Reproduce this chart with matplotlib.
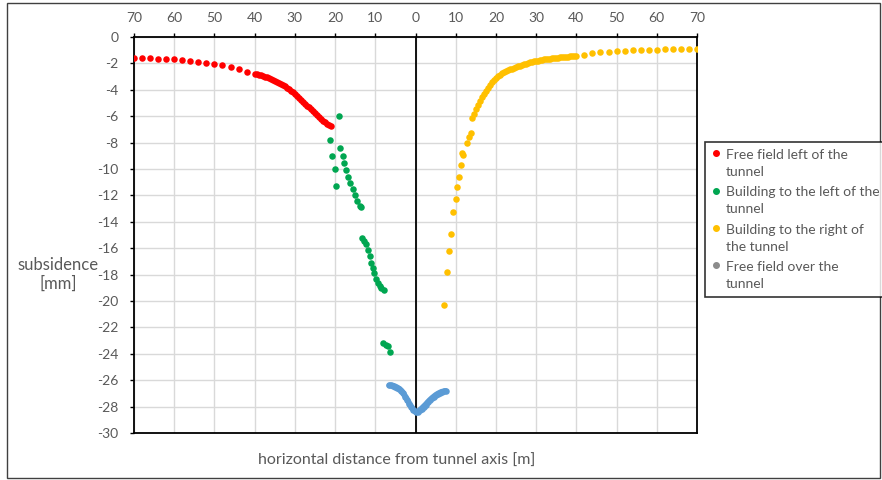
import numpy as np
import matplotlib
matplotlib.use("Agg")
import matplotlib.pyplot as plt
from matplotlib.lines import Line2D
from matplotlib.patches import Rectangle
from matplotlib.legend_handler import HandlerLine2D

plt.rcParams['font.family'] = ['Lato', 'DejaVu Sans']

# ---------------- data ----------------
red_x = np.concatenate([np.arange(-70, -41, 2.0), np.arange(-40, -20.9, 0.5)])
red_y = [-1.57, -1.60, -1.62, -1.65, -1.66, -1.70, -1.75, -1.80, -1.88, -1.95,
         -2.05, -2.15, -2.28, -2.45, -2.63,
         -2.78, -2.82, -2.86, -2.91, -2.95, -3.00, -3.05, -3.10, -3.16, -3.23,
         -3.30, -3.38, -3.46, -3.55, -3.64, -3.74, -3.84, -3.96, -4.08, -4.20,
         -4.33, -4.46, -4.60, -4.74, -4.89, -5.04, -5.19, -5.34, -5.49, -5.64,
         -5.79, -5.94, -6.08, -6.22, -6.35, -6.47, -6.58, -6.67, -6.73]

green_x = [-19.1, -21.2, -20.7, -20.1, -19.7,
           -18.7, -18.1, -17.7, -17.2, -16.7, -16.2, -15.6, -15.1, -14.5, -13.9, -13.5,
           -13.3, -12.9, -12.4, -11.9, -11.4, -11.0, -10.6, -10.2, -9.8, -9.4, -8.9, -8.5, -7.9,
           -8.0, -7.3, -6.8, -6.3]
green_y = [-5.97, -7.80, -9.00, -10.00, -11.30,
           -8.40, -9.05, -9.55, -10.10, -10.60, -11.05, -11.50, -12.00, -12.45, -12.80, -12.90,
           -15.20, -15.45, -15.70, -16.15, -16.60, -17.10, -17.50, -17.90, -18.35, -18.65, -18.85, -19.00, -19.15,
           -23.20, -23.30, -23.40, -23.90]

yellow_x = np.concatenate([[7.2, 7.8, 8.3, 8.9, 9.3, 9.95, 10.3, 10.7, 11.2, 11.6, 11.9, 12.8, 13.4, 13.7],
                           np.arange(14.0, 40.01, 0.5), np.arange(42, 70.1, 2.0)])
yellow_y = [-20.3, -17.8, -16.2, -14.9, -13.25, -12.25, -11.4, -10.6, -9.7, -8.75, -8.95, -8.05, -7.6, -7.3,
            -6.10, -5.80, -5.45, -5.12, -4.82, -4.55, -4.30, -4.06, -3.84, -3.62,
            -3.43, -3.25, -3.10, -2.96, -2.85, -2.76, -2.67, -2.59, -2.52, -2.45,
            -2.39, -2.33, -2.27, -2.22, -2.17, -2.12, -2.07, -2.02, -1.97, -1.93,
            -1.89, -1.85, -1.82, -1.79, -1.76, -1.73, -1.70, -1.67, -1.65, -1.63,
            -1.61, -1.59, -1.57, -1.56, -1.55, -1.54, -1.52, -1.51, -1.49, -1.47,
            -1.46, -1.45, -1.44,
            -1.36, -1.24, -1.16, -1.11, -1.06, -1.04, -1.01, -0.98, -0.96, -0.96,
            -0.94, -0.93, -0.93, -0.93, -0.93]

blue_x = np.arange(-6.5, 7.51, 0.5)
blue_y = [-26.40, -26.40, -26.42, -26.48, -26.56, -26.66, -26.80, -27.00, -27.25, -27.50,
          -27.78, -28.03, -28.25, -28.40, -28.38, -28.28, -28.15, -28.00, -27.85, -27.68,
          -27.52, -27.38, -27.25, -27.13, -27.03, -26.95, -26.88, -26.85, -26.82]

x_ticks = [-70, -60, -50, -40, -30, -20, -10, 0, 10, 20, 30, 40, 50, 60, 70]
x_tick_labels = ["70", "60", "50", "40", "30", "20", "10", "0", "10", "20", "30", "40", "50", "60", "70"]
y_ticks = list(range(0, -31, -2))
y_tick_labels = [str(v) for v in y_ticks]

labels = ["Free field left of the\ntunnel",
          "Building to the left of the\ntunnel",
          "Building to the right of\nthe tunnel",
          "Free field over the\ntunnel"]
colors = ["#FF0000", "#00A651", "#FFC000", "#5B9BD5"]
legend_colors = ["#FF0000", "#00A651", "#FFC000", "#8C8C8C"]

# ---------------- figure ----------------
W, H = 882, 480
fig = plt.figure(figsize=(W / 100, H / 100), dpi=100)
ax = fig.add_axes([134 / W, 1 - 433 / H, (697 - 134) / W, (433 - 37) / H])

gray_txt = "#595959"
ax.set_xlim(-70, 70)
ax.set_ylim(-30, 0)
ax.set_xticks(x_ticks)
ax.set_xticklabels(x_tick_labels)
ax.set_yticks(y_ticks)
ax.set_yticklabels(y_tick_labels)
ax.xaxis.tick_top()
ax.tick_params(axis='x', direction='out', length=3, width=1, colors='black',
               labelcolor=gray_txt, labelsize=10, pad=6)
ax.tick_params(axis='y', direction='out', length=3, width=1, colors='black',
               labelcolor=gray_txt, labelsize=10, pad=8)
ax.grid(True, color="#D9D9D9", linewidth=1)
ax.set_axisbelow(True)
for s in ax.spines.values():
    s.set_color('black')
    s.set_linewidth(1.3)
ax.axvline(0, color='black', linewidth=1.3, zorder=2)

ms = 22
ax.scatter(red_x, red_y, s=ms, color=colors[0], zorder=3, linewidths=0)
ax.scatter(green_x, green_y, s=ms, color=colors[1], zorder=3, linewidths=0)
ax.scatter(yellow_x, yellow_y, s=ms, color=colors[2], zorder=3, linewidths=0)
ax.scatter(blue_x, blue_y, s=ms, color=colors[3], zorder=3, linewidths=0)
ax.plot(blue_x, blue_y, color=colors[3], linewidth=4.2, zorder=3, solid_capstyle='round')

fig.text(58.5 / W, 1 - 274.5 / H, "subsidence\n[mm]", ha='center', va='center',
         fontsize=12, color=gray_txt, linespacing=1.25)
fig.text(397 / W, 1 - 461 / H, "horizontal distance from tunnel axis [m]", ha='center', va='center',
         fontsize=11.5, color=gray_txt)


class UpHandler(HandlerLine2D):
    def create_artists(self, legend, orig_handle, xdescent, ydescent, width, height, fontsize, trans):
        arts = super().create_artists(legend, orig_handle, xdescent, ydescent, width, height, fontsize, trans)
        for a in arts:
            a.set_ydata(np.asarray(a.get_ydata()) + 0.75 * fontsize)
        return arts


handles = [Line2D([], [], linestyle='none', marker='o', markersize=4, color=c) for c in legend_colors]
leg = fig.legend(handles, labels, loc='upper left', bbox_to_anchor=(705 / W, 1 - 142 / H),
                 frameon=True, fancybox=False, fontsize=10, handlelength=0.6, handletextpad=0.4,
                 labelspacing=0.6, borderpad=0.5, labelcolor=gray_txt, borderaxespad=0,
                 handler_map={Line2D: UpHandler()})
for t in leg.get_texts():
    t.set_linespacing(1.5)
leg.get_frame().set_edgecolor('black')
leg.get_frame().set_linewidth(1.2)

fig.patches.append(Rectangle((7 / W, 2 / H), (880 - 7) / W, (477 - 2) / H, transform=fig.transFigure,
                             fill=False, edgecolor='#404040', linewidth=1))

fig.savefig("out.png", dpi=100)
